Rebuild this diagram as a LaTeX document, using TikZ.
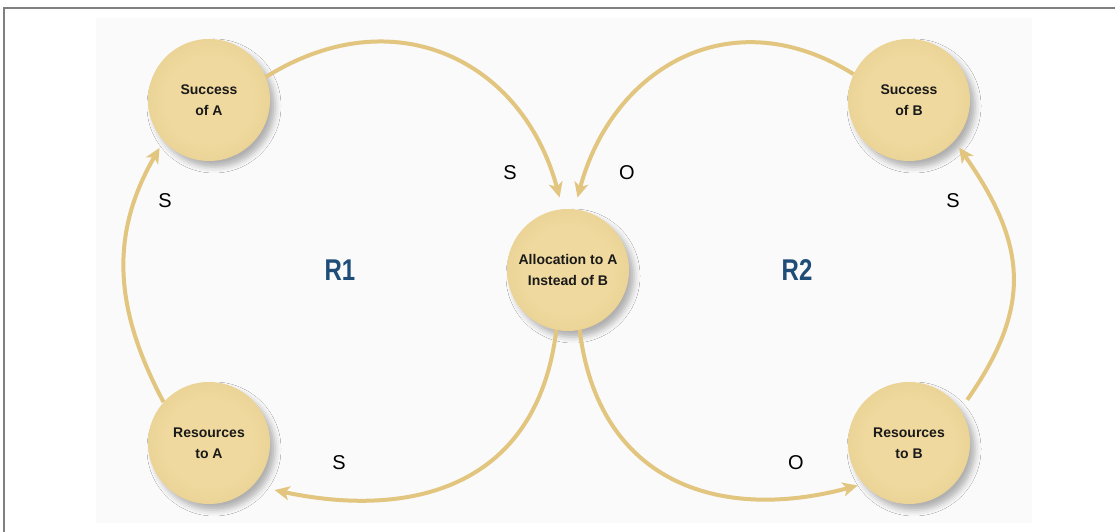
\documentclass[tikz,border=0pt]{standalone}
\usepackage{fontspec}
\setmainfont{Liberation Sans}
\usetikzlibrary{arrows.meta,shadows.blur}
\definecolor{sand}{HTML}{E2C57E}
\definecolor{ballin}{HTML}{EFD99E}
\definecolor{ballout}{HTML}{DFC17C}
\definecolor{loopblue}{HTML}{1E4D78}
\definecolor{panel}{HTML}{FAFAFA}
\pgfdeclareradialshading{ballshade}{\pgfpoint{0bp}{0bp}}{color(0bp)=(ballin); color(18bp)=(ballin); color(50bp)=(ballout)}
\tikzset{ball/.style={circle, minimum size=122pt, inner sep=0pt, shading=ballshade,
    blur shadow={shadow xshift=5pt, shadow yshift=-6pt, shadow blur radius=6pt, shadow opacity=30},
    font=\bfseries\fontsize{14}{21}\selectfont, align=center, text=black!90},
  link/.style={draw=sand, line width=4pt, -{Stealth[length=15pt,width=14pt,inset=4pt]}},
  pol/.style={font=\fontsize{20}{20}\selectfont},
  loopname/.style={font=\bfseries\fontsize{30}{30}\selectfont, text=loopblue, xscale=.8}}

\begin{document}
\begin{tikzpicture}[x=1pt, y=1pt]

    \useasboundingbox (0,0) rectangle (1115,532);
    \fill[panel] (96,9) rectangle (1032,514);
    \draw[gray, line width=1.5pt] (4,0) -- (4,524) -- (1115,524);

    \node[ball] (succA) at (209,432) {Success\\of A};
    \node[ball] (succB) at (909,432) {Success\\of B};
    \node[ball] (alloc) at (568,262) {Allocation to A\\Instead of B};
    \node[ball] (resA)  at (209,89)  {Resources\\to A};
    \node[ball] (resB)  at (909,89)  {Resources\\to B};

    % the two loops
    \draw[link, shorten >=12pt] (succA.22) to[out=32, in=105, looseness=1.2] (alloc.95);
    \draw[link, shorten >=12pt] (succB.155) to[out=148, in=75, looseness=1.2] (alloc.84);
    \draw[link, shorten >=22pt] (alloc.259) to[out=-97, in=-12, looseness=1.2] (resA.-44);
    \draw[link, shorten >=6pt] (alloc.281) to[out=-83, in=195, looseness=1.2] (resB.222);
    \draw[link, shorten >=8pt] (resA.138) to[out=118, in=240, looseness=1.05] (succA.222);
    \draw[link, shorten <=12pt, shorten >=8pt] (resB.33) to[out=55, in=305, looseness=1.2] (succB.-42);

    \foreach \nm/\pos/\txt in {polA/{165,331}/S, polAB/{510,359}/S, polBB/{627,359}/O,
                               polB/{953,331}/S, polRA/{339,69}/S, polRB/{796,69}/O}
        \node[pol] (\nm) at (\pos) {\txt};

    \node[loopname] (loopR1) at (340,262) {R1};
    \node[loopname] (loopR2) at (797,262) {R2};

\end{tikzpicture}
\end{document}
